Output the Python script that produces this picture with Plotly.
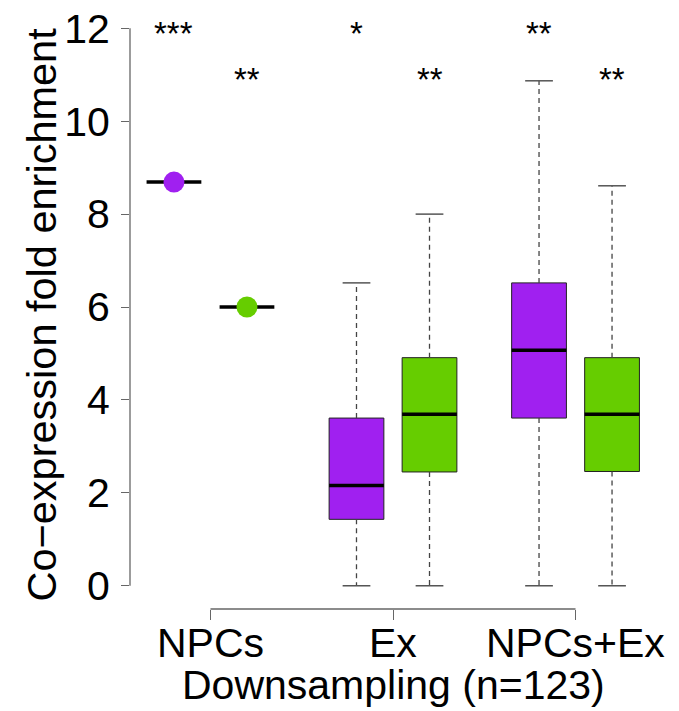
import plotly.graph_objects as go

# ---------------- data ----------------
groups = ["NPCs", "Ex", "NPCs+Ex"]

purple_min = [8.69, 0.0, 0.0]
purple_q1 = [8.69, 1.43, 3.61]
purple_med = [8.69, 2.16, 5.07]
purple_q3 = [8.69, 3.61, 6.52]
purple_max = [8.69, 6.52, 10.87]

green_min = [6.0, 0.0, 0.0]
green_q1 = [6.0, 2.45, 2.46]
green_med = [6.0, 3.69, 3.69]
green_q3 = [6.0, 4.91, 4.91]
green_max = [6.0, 8.0, 8.61]

purple_stars = ["***", "*", "**"]
green_stars = ["**", "**", "**"]
purple_star_level = [12, 12, 12]
green_star_level = [11, 11, 11]

y_ticks = [0, 2, 4, 6, 8, 10, 12]

# ---------------- style / layout ----------------
PURPLE = "#A020F0"
GREEN = "#66CD00"
FONT = "Liberation Sans, Arial, sans-serif"
group_centers = [1.5, 4.0, 6.5]
offset = 0.5
box_w = 0.75
cap_w = 0.19

fig = go.Figure()


def add_series(pos, mn, q1, med, q3, mx, color):
    # boxes
    bx, bb, bh = [], [], []
    for p, a, b in zip(pos, q1, q3):
        if b > a:
            bx.append(p); bb.append(a); bh.append(b - a)
    fig.add_trace(go.Bar(x=bx, y=bh, base=bb, width=box_w,
                         marker=dict(color=color, line=dict(color="#222", width=1)),
                         hoverinfo="skip", showlegend=False))
    # whiskers
    wx, wy, cx, cy = [], [], [], []
    for p, lo, a, b, hi in zip(pos, mn, q1, q3, mx):
        if hi > b:
            wx += [p, p, None]; wy += [b, hi, None]
            cx += [p - cap_w, p + cap_w, None]; cy += [hi, hi, None]
        if lo < a:
            wx += [p, p, None]; wy += [a, lo, None]
            cx += [p - cap_w, p + cap_w, None]; cy += [lo, lo, None]
    fig.add_trace(go.Scatter(x=wx, y=wy, mode="lines",
                             line=dict(color="#444", width=1.3, dash="5px,4px"),
                             hoverinfo="skip", showlegend=False))
    fig.add_trace(go.Scatter(x=cx, y=cy, mode="lines",
                             line=dict(color="#555", width=1.5),
                             hoverinfo="skip", showlegend=False))
    # medians
    mxs, mys = [], []
    for p, m in zip(pos, med):
        mxs += [p - box_w / 2, p + box_w / 2, None]; mys += [m, m, None]
    fig.add_trace(go.Scatter(x=mxs, y=mys, mode="lines",
                             line=dict(color="black", width=3.5),
                             hoverinfo="skip", showlegend=False))
    # single-value points
    px = [p for p, lo, hi in zip(pos, mn, mx) if lo == hi]
    py = [m for m, lo, hi in zip(med, mn, mx) if lo == hi]
    fig.add_trace(go.Scatter(x=px, y=py, mode="markers",
                             marker=dict(color=color, size=21, line=dict(width=0)),
                             hoverinfo="skip", showlegend=False))


ppos = [c - offset for c in group_centers]
gpos = [c + offset for c in group_centers]
add_series(ppos, purple_min, purple_q1, purple_med, purple_q3, purple_max, PURPLE)
add_series(gpos, green_min, green_q1, green_med, green_q3, green_max, GREEN)

# significance stars
for p, s, lv in zip(ppos, purple_stars, purple_star_level):
    fig.add_annotation(x=p, y=lv, text=s, showarrow=False, xref="x", yref="y",
                       font=dict(family=FONT, size=33, color="black"), yshift=-5)
for p, s, lv in zip(gpos, green_stars, green_star_level):
    fig.add_annotation(x=p, y=lv, text=s, showarrow=False, xref="x", yref="y",
                       font=dict(family=FONT, size=33, color="black"), yshift=-5)

# axis lines (R style: span only the tick range)
fig.add_shape(type="line", xref="paper", yref="y", x0=0, x1=0, y0=y_ticks[0], y1=y_ticks[-1],
              line=dict(color="#666", width=1.3))
fig.add_shape(type="line", xref="x", yref="paper", x0=group_centers[0], x1=group_centers[-1],
              y0=0, y1=0, line=dict(color="#666", width=1.3))

# x tick labels
for c, g in zip(group_centers, groups):
    fig.add_annotation(text=g, xref="x", yref="paper", x=c, y=0,
                       xanchor="center", yanchor="middle", yshift=-34, showarrow=False,
                       font=dict(family=FONT, size=41, color="black"))

# y title
fig.add_annotation(text="Co\u2212expression fold enrichment", textangle=-90,
                   xref="paper", yref="paper", x=0, y=0.49, xanchor="center", yanchor="middle",
                   xshift=-88, showarrow=False,
                   font=dict(family=FONT, size=41.5, color="black"))
# x title
fig.add_annotation(text="Downsampling (n=123)", xref="x", yref="paper", x=4.0, y=0,
                   xanchor="center", yanchor="middle", yshift=-75.5, showarrow=False,
                   font=dict(family=FONT, size=41, color="black"))

fig.update_layout(
    width=671, height=703,
    margin=dict(l=121.5, r=23, t=0, b=102.3, autoexpand=False),
    plot_bgcolor="white", paper_bgcolor="white",
    barmode="overlay",
    font=dict(family=FONT, color="black"),
    xaxis=dict(range=[0.398, 7.602], tickvals=group_centers, ticktext=["", "", ""],
               ticks="outside", ticklen=10, tickwidth=1.3, tickcolor="#666",
               showline=False, showgrid=False, zeroline=False, fixedrange=True),
    yaxis=dict(range=[-0.5, 12.437], tickvals=y_ticks,
               ticks="outside", ticklen=8, tickwidth=1.3, tickcolor="#666",
               ticklabelstandoff=3, ticklabeloverflow="allow",
               showline=False, showgrid=False, zeroline=False, fixedrange=True,
               tickfont=dict(family=FONT, size=41, color="black")),
)

fig.write_html("out.html")
